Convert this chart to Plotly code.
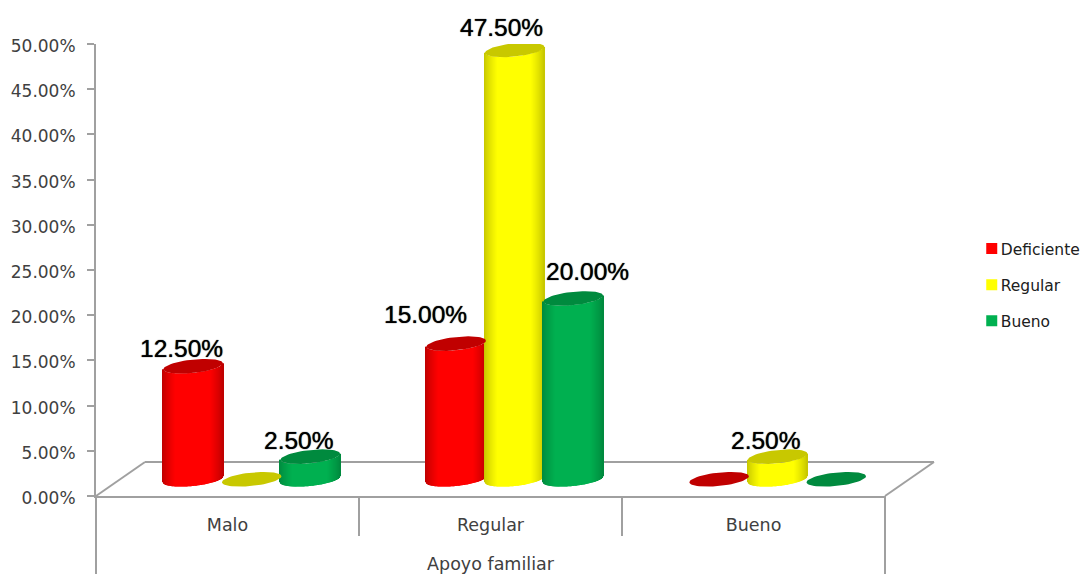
import numpy as np
import plotly.graph_objects as go

# Chart values (percent of respondents)
categories = ["Malo", "Regular", "Bueno"]
series_names = ["Deficiente", "Regular", "Bueno"]
deficiente = [12.5, 15.0, 0.0]
regular = [0.0, 47.5, 2.5]
bueno = [2.5, 20.0, 0.0]
all_values = [deficiente, regular, bueno]
y_ticks = list(range(0, 51, 5))

# Bright body colour and dark edge/cap colour of each series
bright = [(255, 0, 0), (255, 255, 0), (0, 176, 80)]
dark = [(192, 0, 0), (200, 200, 0), (0, 138, 62)]

# Where the value labels sit relative to their column (pixels)
label_shift = {
    (0, 0): (-12, 19), (1, 0): (-31, 30), (0, 2): (-12, 17), (1, 2): (14, 28),
    (2, 1): (-12, 17), (1, 1): (-13, 24),
}

# 3D look of the columns, in axis units
FLOOR = 1.85        # column base centre above the zero line (percent)
CAP_B = 0.74        # vertical semi-axis of the cap ellipse (percent)
CAP_TILT = 0.33     # rise of the cap's right side (percent)
HALF_W = 0.113      # column half width (category units)
STEP = 0.2227       # distance between neighbouring columns
SHIFT = 0.092       # the columns stand further back than the labels
N_SLICES = 61


def shade(u, s):
    mix = min(1.0, (1 - abs(u)) / 0.42) ** 0.8
    r, g, b = [int(d + (c - d) * mix) for c, d in zip(bright[s], dark[s])]
    return f"rgb({r},{g},{b})"


fig = go.Figure()
u = np.linspace(-1, 1, N_SLICES)
slice_w = 2 * HALF_W / N_SLICES * 1.25
theta = np.linspace(0, 2 * np.pi, 61)

for s, values in enumerate(all_values):
    xs, tops, bases, colors = [], [], [], []
    cap_x, cap_y = [], []
    for c, v in enumerate(values):
        cx = c + 0.5 + SHIFT + (s - 1) * STEP
        for ui in u:
            xs.append(cx + HALF_W * ui)
            tops.append(v)
            bases.append(FLOOR + CAP_TILT * ui - CAP_B * np.sqrt(1 - ui ** 2))
            colors.append(shade(ui, s))
        cap_x += list(cx + HALF_W * np.cos(theta)) + [None]
        cap_y += list(FLOOR + v + CAP_TILT * np.cos(theta) + CAP_B * np.sin(theta)) + [None]
    fig.add_trace(go.Bar(x=xs, y=tops, base=bases, width=slice_w,
                         marker=dict(color=colors, line_width=0),
                         showlegend=False, hoverinfo="skip", cliponaxis=False))
    fig.add_trace(go.Scatter(x=cap_x, y=cap_y, mode="lines", fill="toself",
                             fillcolor="rgb(%d,%d,%d)" % dark[s],
                             line=dict(width=0), showlegend=False,
                             hoverinfo="skip", cliponaxis=False))

# Legend entries
for s, name in enumerate(series_names):
    fig.add_trace(go.Scatter(x=[None], y=[None], mode="markers", name=name,
                             legendgroup=name,
                             marker=dict(symbol="square", size=11,
                                         color="rgb(%d,%d,%d)" % bright[s])))

# Value labels above the non-zero columns
annotations = []
for s, values in enumerate(all_values):
    for c, v in enumerate(values):
        if v == 0:
            continue
        dx, dy = label_shift[(c, s)]
        annotations.append(dict(
            x=c + 0.5 + SHIFT + (s - 1) * STEP, y=v,
            xref="x", yref="y", text=f"{v:.2f}%", showarrow=False,
            xanchor="center", yanchor="bottom", xshift=dx, yshift=dy,
            font=dict(family="Liberation Sans", size=24.5, color="#000000",
                      shadow="0 0 1px #000000")))

# Floor of the 3D box and the category separators, in plot fractions
GRAY = "#A0A0A0"
PLOT_W, PLOT_H = 789.0, 452.0
depth_x, depth_y = 49 / PLOT_W, 34 / PLOT_H
drop_short, drop_long = 40 / PLOT_H, 78 / PLOT_H
segments = [
    (0, 0, depth_x, depth_y),
    (depth_x, depth_y, 1 + depth_x, depth_y),
    (1, 0, 1 + depth_x, depth_y),
    (0, 0, 0, -drop_long),
    (1, 0, 1, -drop_long),
    (1 / 3, 0, 1 / 3, -drop_short),
    (2 / 3, 0, 2 / 3, -drop_short),
]
shapes = [dict(type="line", xref="paper", yref="paper", x0=a, y0=b, x1=c, y1=d,
               layer="below", line=dict(color=GRAY, width=2))
          for a, b, c, d in segments]

fig.update_layout(
    width=1083, height=574,
    margin=dict(l=96, r=198, t=44, b=78, autoexpand=False),
    paper_bgcolor="white", plot_bgcolor="white",
    barmode="overlay", shapes=shapes, annotations=annotations,
    font=dict(family="DejaVu Sans", color="#404040"),
    legend=dict(x=1.096, y=0.467, xanchor="left", yanchor="middle",
                tracegroupgap=13, bgcolor="rgba(0,0,0,0)",
                font=dict(family="DejaVu Sans", size=15.5, color="#202020")),
    xaxis=dict(range=[0, 3], tickmode="array", tickvals=[0.5, 1.5, 2.5],
               ticktext=categories, ticks="", showgrid=False, zeroline=False,
               showline=True, linecolor=GRAY, linewidth=2,
               ticklabelstandoff=12, tickfont=dict(size=17.5),
               title=dict(text="Apoyo familiar", standoff=24,
                          font=dict(size=17.5))),
    yaxis=dict(range=[0, 50], tickmode="array", tickvals=y_ticks,
               ticktext=[f"{t:.2f}%" for t in y_ticks],
               ticks="outside", ticklen=7, ticklabelshift=2,
               tickwidth=2, tickcolor=GRAY, showgrid=False, zeroline=False,
               showline=True, linecolor=GRAY, linewidth=2,
               ticklabelstandoff=8, tickfont=dict(size=17)),
)

# Legend swatches sit closer to their text than the default spacing allows
tighten_legend = """
document.querySelectorAll('.legendsymbols').forEach(function (g) {
    g.setAttribute('transform', 'translate(11,0)');
});
"""
fig.write_html("out.html", post_script=tighten_legend)
